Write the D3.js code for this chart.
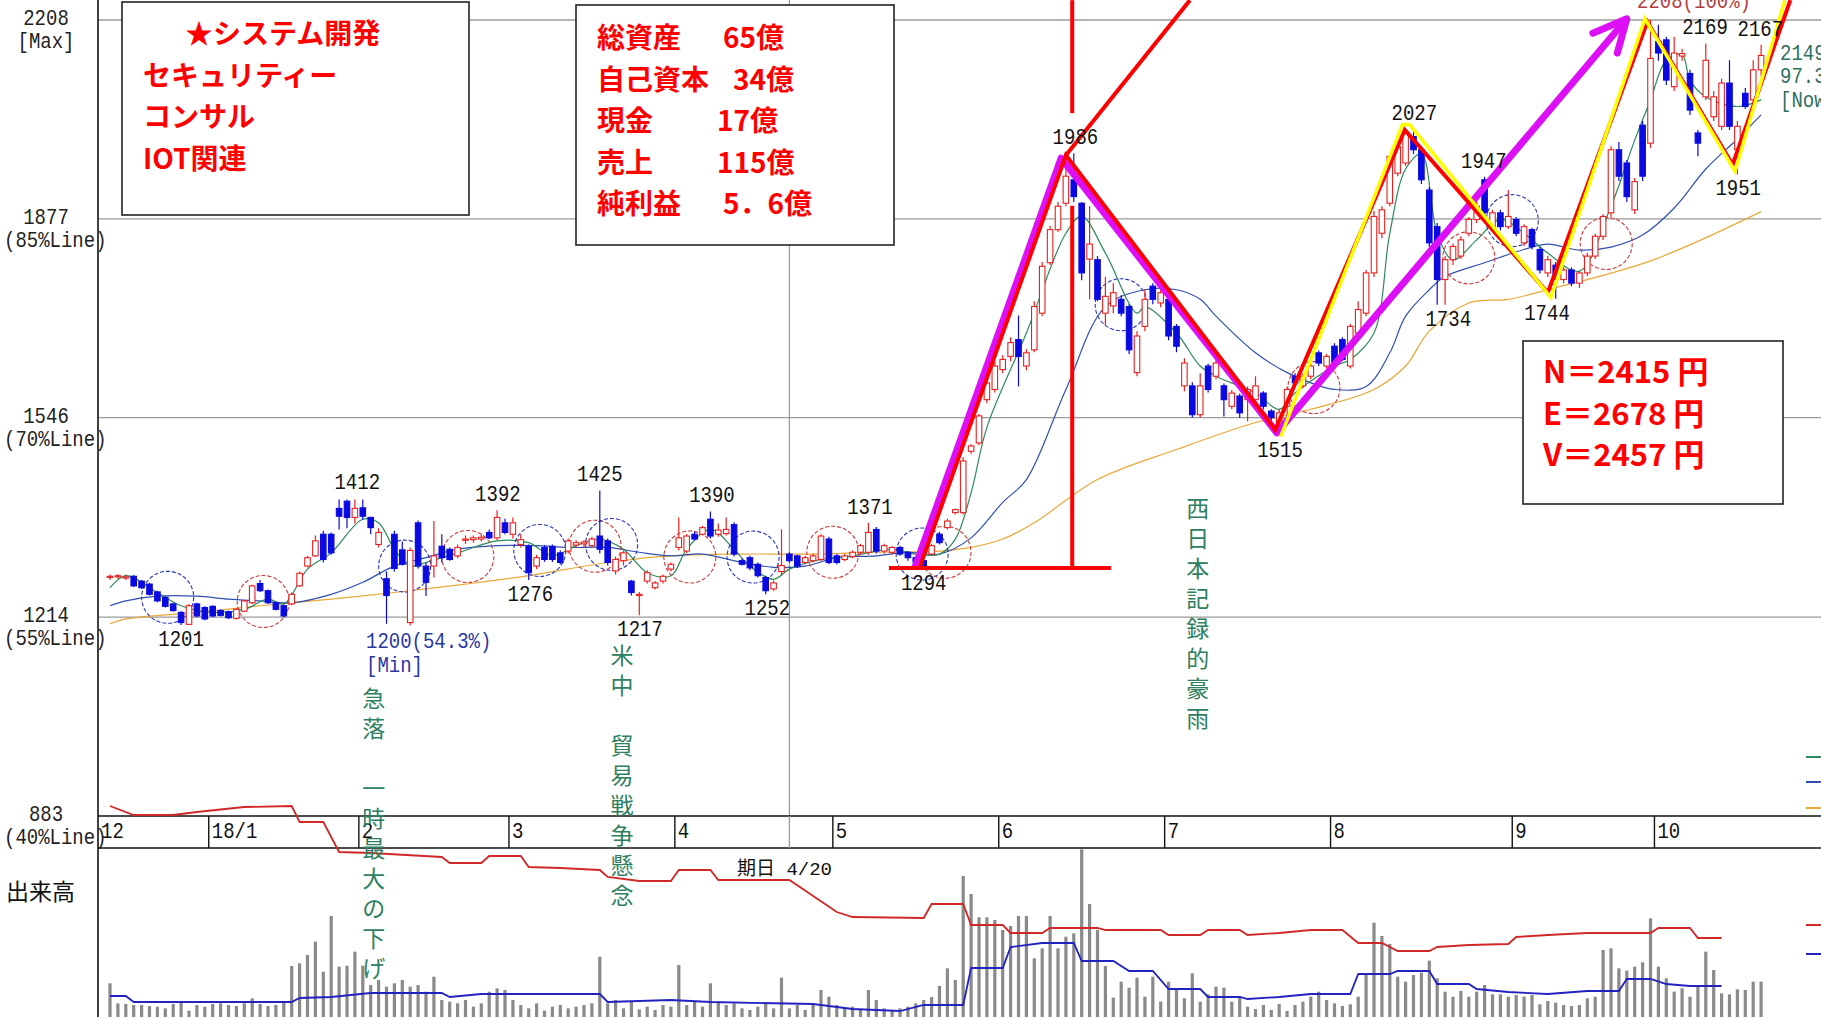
<!DOCTYPE html>
<html><head><meta charset="utf-8">
<script src="https://cdn.jsdelivr.net/npm/d3@7"></script>
<style>
html,body{margin:0;padding:0;background:#fff;overflow:hidden}
svg{display:block}
</style></head><body>
<script>
// month segments on the time axis (trading days shown per month)
const monthLabels = ["12","18/1","2","3","4","5","6","7","8","9","10"];
const monthDays = [13,19,19,21,20,21,21,21,23,18,14];

// daily candles [open, high, low, close]
const dec = [[1280,1285,1276,1282],[1281,1286,1278,1283],[1279,1285,1276,1281],[1282,1284,1264,1266],[1274,1276,1261,1263],[1269,1271,1250,1252],[1256,1258,1239,1241],[1247,1249,1230,1232],[1236,1238,1223,1225],[1222,1224,1201,1205],[1202,1236,1201,1233],[1236,1238,1214,1216],[1230,1232,1209,1211]];
const jan = [[1232,1234,1214,1216],[1225,1227,1215,1217],[1223,1225,1211,1213],[1212,1229,1210,1227],[1224,1243,1222,1241],[1238,1268,1236,1266],[1270,1276,1256,1258],[1258,1260,1236,1238],[1238,1240,1225,1227],[1233,1235,1214,1216],[1236,1255,1234,1252],[1266,1290,1264,1287],[1299,1316,1297,1313],[1316,1350,1314,1341],[1352,1358,1305,1310],[1352,1355,1318,1321],[1395,1410,1360,1382],[1407,1410,1362,1380],[1380,1410,1370,1395]];
const feb = [[1396,1410,1376,1382],[1380,1381,1352,1363],[1335,1362,1330,1355],[1278,1290,1203,1250],[1352,1358,1290,1295],[1326,1340,1300,1302],[1205,1330,1200,1325],[1371,1375,1295,1299],[1299,1305,1249,1272],[1299,1374,1280,1316],[1332,1352,1305,1313],[1327,1330,1308,1310],[1316,1335,1312,1330],[1342,1350,1336,1344],[1343,1350,1338,1346],[1344,1352,1340,1347],[1355,1360,1344,1346],[1346,1392,1342,1380],[1371,1378,1352,1355]];
const mar = [[1352,1380,1345,1371],[1335,1352,1330,1343],[1332,1335,1276,1288],[1299,1318,1294,1313],[1330,1334,1306,1310],[1332,1335,1306,1310],[1321,1325,1302,1305],[1324,1345,1320,1341],[1334,1342,1330,1338],[1336,1342,1330,1339],[1333,1348,1330,1344],[1349,1425,1320,1327],[1341,1345,1300,1305],[1291,1315,1285,1310],[1308,1325,1300,1321],[1274,1276,1250,1255],[1250,1256,1217,1252],[1274,1292,1270,1288],[1263,1274,1260,1271],[1274,1285,1270,1282],[1294,1305,1290,1302]];
const apr = [[1330,1380,1325,1346],[1324,1352,1320,1349],[1352,1356,1342,1344],[1352,1366,1350,1363],[1377,1390,1345,1349],[1352,1370,1348,1359],[1353,1380,1350,1360],[1368,1372,1315,1319],[1308,1312,1300,1302],[1313,1316,1292,1296],[1302,1305,1280,1283],[1280,1283,1252,1258],[1261,1275,1258,1271],[1290,1360,1283,1300],[1319,1322,1305,1308],[1316,1318,1296,1299],[1305,1316,1302,1313],[1308,1320,1305,1316],[1310,1352,1307,1349],[1344,1348,1302,1305]];
const may = [[1316,1319,1302,1305],[1310,1319,1307,1316],[1315,1325,1312,1322],[1322,1336,1318,1333],[1322,1371,1318,1355],[1360,1364,1320,1324],[1324,1336,1320,1333],[1322,1332,1318,1330],[1330,1333,1316,1319],[1322,1324,1308,1313],[1313,1315,1294,1305],[1308,1310,1298,1300],[1319,1336,1316,1333],[1352,1356,1335,1338],[1363,1378,1360,1374],[1388,1395,1385,1393],[1388,1480,1385,1474],[1490,1502,1486,1499],[1504,1552,1500,1549],[1576,1610,1570,1604],[1593,1640,1588,1632]];
const jun = [[1626,1650,1620,1643],[1648,1680,1640,1671],[1676,1716,1598,1648],[1632,1660,1625,1654],[1659,1740,1655,1731],[1720,1805,1715,1798],[1804,1865,1800,1859],[1859,1905,1855,1898],[1903,1960,1898,1948],[1942,1986,1905,1914],[1903,1905,1775,1787],[1810,1898,1743,1835],[1809,1815,1740,1743],[1720,1780,1700,1748],[1732,1770,1720,1754],[1743,1750,1715,1720],[1731,1735,1652,1659],[1621,1690,1615,1682],[1698,1760,1690,1743],[1765,1770,1735,1743],[1737,1760,1730,1754]];
const jul = [[1743,1748,1675,1682],[1698,1702,1655,1665],[1599,1645,1590,1637],[1599,1605,1546,1551],[1551,1620,1546,1599],[1632,1636,1588,1593],[1615,1655,1610,1637],[1599,1603,1548,1576],[1565,1592,1560,1587],[1582,1586,1546,1554],[1576,1598,1540,1593],[1576,1615,1572,1599],[1587,1590,1560,1565],[1557,1560,1540,1546],[1527,1560,1515,1554],[1565,1598,1548,1593],[1615,1620,1600,1604],[1599,1620,1595,1615],[1615,1636,1610,1632],[1654,1658,1632,1637],[1632,1652,1628,1648]];
const aug = [[1665,1670,1632,1637],[1676,1680,1640,1643],[1632,1702,1628,1698],[1687,1740,1682,1726],[1720,1792,1715,1787],[1787,1890,1780,1881],[1853,1898,1845,1892],[1903,1985,1898,1981],[1953,2005,1948,1997],[1970,2027,1965,2020],[2014,2027,1985,1992],[1992,1998,1935,1942],[1925,1930,1830,1837],[1864,1870,1734,1776],[1776,1815,1734,1809],[1809,1836,1800,1831],[1815,1848,1810,1842],[1853,1880,1848,1876],[1876,1905,1870,1898],[1942,1947,1880,1887],[1864,1892,1858,1887],[1887,1892,1858,1864],[1864,1925,1860,1881]];
const sep = [[1876,1880,1848,1853],[1837,1868,1832,1864],[1859,1862,1826,1831],[1826,1830,1786,1792],[1787,1815,1780,1809],[1800,1805,1744,1776],[1776,1797,1770,1792],[1792,1796,1765,1770],[1770,1790,1762,1787],[1787,1820,1782,1815],[1815,1852,1810,1848],[1848,1885,1842,1881],[1887,1998,1880,1992],[1992,2005,1940,1948],[1970,1975,1905,1914],[1892,1945,1885,1939],[2033,2040,1940,1948],[2003,2208,1995,2144]];
const oct = [[2172,2200,2140,2153],[2175,2180,2100,2108],[2097,2180,2090,2153],[2148,2160,2140,2152],[2119,2125,2050,2058],[2020,2025,1981,2003],[2080,2169,2075,2141],[2047,2090,2040,2080],[2031,2110,2025,2103],[2103,2141,2025,2031],[1992,2040,1951,2031],[2086,2095,2060,2064],[2075,2141,2064,2125],[2125,2167,2114,2149]];

// daily volume (千株)
const volDec = [101,41,39,36,36,33,31,26,39,48,19,36,31];
const volJan = [39,41,36,33,41,56,39,33,36,46,153,161,186,226,136,303,151,154,196];
const volFeb = [154,96,111,91,101,111,91,96,76,121,51,46,41,51,31,41,76,86,81];
const volMar = [51,36,26,41,19,31,36,26,31,36,41,181,41,51,26,46,23,31,21,36,31];
const volApr = [156,36,46,31,101,46,36,41,26,21,31,39,26,118,26,36,21,41,81,61];
const volMay = [36,26,31,21,81,51,26,21,26,31,41,51,60,93,146,111,423,369,299,299,291];
const volJun = [261,273,303,303,176,206,303,206,241,251,503,339,261,153,58,106,88,118,61,121,46];
const volJul = [106,81,56,131,46,68,91,88,46,61,31,24,36,21,39,18,36,46,61,76,51];
const volAug = [41,33,38,61,131,283,243,219,121,106,126,133,169,116,76,61,78,61,76,96,68,68,61];
const volSep = [66,61,66,38,48,43,36,33,36,56,61,201,206,146,139,151,164,296];
const volOct = [151,116,76,86,61,96,196,141,71,68,83,81,106,106];

// weekly lines in the volume pane [day, value]
const creditBuy = [[0,633],[3,606],[8,606],[11,615],[17,630],[23,633],[24,585],[27,585],[29,495],[33,492],[42,480],[43,462],[47,462],[48,483],[52,483],[53,450],[57,447],[62,441],[63,420],[67,408],[71,408],[72,441],[76,441],[77,411],[86,411],[92,315],[94,300],[103,297],[104,339],[108,339],[109,276],[113,276],[114,252],[118,252],[119,267],[125,267],[126,261],[133,261],[134,246],[138,246],[139,261],[143,261],[144,246],[148,252],[152,261],[156,261],[158,222],[161,222],[163,198],[167,198],[168,210],[172,216],[177,219],[178,240],[182,246],[187,252],[195,252],[196,267],[200,267],[201,237],[204,237]];
const creditSell = [[0,63],[2,63],[3,45],[23,45],[24,57],[28,60],[33,72],[42,72],[43,60],[47,69],[62,69],[63,45],[71,51],[76,45],[89,39],[94,24],[100,18],[103,36],[108,36],[109,147],[113,147],[114,210],[118,222],[122,222],[123,168],[127,168],[129,138],[132,138],[134,84],[138,84],[139,60],[143,60],[144,54],[148,60],[152,69],[157,69],[158,129],[162,129],[163,138],[167,138],[168,99],[172,99],[173,84],[177,75],[182,69],[187,78],[191,78],[192,114],[195,114],[197,99],[200,93],[204,93]];

// moving averages [day, price]
const maShort = [[0,1263],[2,1283],[6,1255],[9,1233],[13,1222],[17,1227],[20,1244],[22,1236],[25,1294],[28,1321],[32,1377],[34,1371],[36,1327],[38,1299],[40,1305],[44,1321],[49,1341],[53,1338],[56,1316],[59,1333],[62,1344],[65,1327],[68,1288],[71,1283],[73,1327],[76,1360],[79,1327],[81,1299],[84,1277],[86,1294],[90,1310],[94,1316],[99,1327],[102,1319],[105,1319],[107,1344],[109,1421],[111,1530],[116,1687],[121,1853],[123,1881],[126,1820],[130,1720],[131,1731],[135,1687],[138,1632],[140,1615],[145,1587],[148,1560],[150,1587],[155,1632],[157,1643],[160,1687],[162,1853],[164,1960],[166,1985],[168,1853],[170,1809],[173,1842],[176,1876],[179,1853],[182,1820],[186,1790],[190,1898],[193,2008],[195,2075],[197,2141],[199,2150],[200,2108],[202,2080],[206,2064],[209,2075]];
const maMid = [[0,1233],[2,1241],[6,1249],[11,1249],[15,1244],[19,1241],[23,1238],[28,1252],[32,1272],[36,1299],[40,1313],[44,1327],[49,1333],[54,1333],[58,1330],[63,1330],[67,1322],[71,1316],[75,1319],[80,1305],[84,1297],[88,1299],[92,1313],[97,1316],[101,1322],[105,1319],[109,1346],[113,1405],[116,1443],[121,1593],[126,1731],[131,1759],[135,1759],[138,1743],[140,1715],[145,1654],[149,1621],[152,1604],[155,1593],[159,1598],[162,1654],[164,1715],[167,1759],[169,1781],[174,1804],[179,1826],[182,1835],[186,1825],[190,1830],[194,1850],[198,1895],[202,1960],[206,2010],[209,2050]];
const maLong = [[0,1203],[2,1211],[11,1222],[19,1233],[28,1244],[36,1255],[45,1269],[53,1283],[63,1305],[71,1316],[80,1319],[88,1319],[97,1322],[105,1324],[109,1330],[113,1344],[117,1371],[125,1443],[135,1493],[145,1538],[152,1560],[160,1593],[164,1632],[167,1690],[172,1737],[177,1743],[182,1759],[195,1807],[209,1889]];

// cross markers [day, price, kind]
const crossCircles = [[7.3,1247,"d"],[19.4,1240,"g"],[37.3,1299,"d"],[45.3,1315,"g"],[54.4,1325,"d"],[61.4,1332,"g"],[63.5,1335,"d"],[73.4,1314,"g"],[81.4,1314,"d"],[91.5,1322,"g"],[102.8,1319,"d"],[105.7,1322,"g"],[128,1734,"d"],[152.4,1596,"g"],[172,1812,"g"],[177.5,1874,"d"],[189.4,1836,"g"]];

// high / low labels [day, price, text, side]
const pivotLabels = [[31.3,1412,"1412","up"],[49.1,1392,"1392","up"],[53.2,1276,"1276","dn"],[9,1201,"1201","dn"],[62,1425,"1425","up"],[76.2,1390,"1390","up"],[67.1,1217,"1217","dn"],[83.2,1252,"1252","dn"],[96.2,1371,"1371","up"],[103,1294,"1294","dn"],[122.2,1986,"1986","up"],[148.1,1515,"1515","dn"],[165.1,2027,"2027","up"],[169.4,1734,"1734","dn"],[173.9,1947,"1947","up"],[181.9,1744,"1744","dn"],[201.9,2169,"2169","up"],[208.9,2167,"2167","up"],[206.1,1951,"1951","dn"]];

// price levels on the left axis
const priceLines = [2208,1877,1546,1214,883];
const priceNotes = ["[Max]","(85%Line)","(70%Line)","(55%Line)","(40%Line)"];

// hand-drawn wave lines [day, price]
const waveMagenta = [[101.9,1297],[120.4,1978],[147.7,1521],[192,2210]];
const arrowHead = [[187.7,2186],[192,2210],[190.8,2153]];
const waveRed = [[102.5,1297],[121,1983],[147.5,1526],[163.9,2025],[182,1754],[194.6,2205],[205.4,1967],[212.7,2241]];
const waveRedExt = [[121,1983],[136.7,2241]];
const waveYellow = [[148.2,1515],[163.6,2034],[164.5,2034],[182.4,1746],[194.3,2210],[205.7,1956],[212,2241]];
const nTarget = [[121.8,2241],[121.8,2053]];
const nTarget2 = [[121.8,1899],[121.8,1296]];
const nBase = [[98.6,1296],[126.7,1296]];

// vertical notes [day, price of first char, text]
const notes = [[33.4,1081,"急落　一時最大の下げ"],[64.8,1153,"米中　貿易戦争懸念"],[137.7,1397,"西日本記録的豪雨"]];

const themeLines = ["★システム開発","セキュリティー","コンサル","IOT関連"];
const finLabels = ["総資産","自己資本","現金","売上","純利益"];
const finValues = ["65億","34億","17億","115億","5．6億"];
const nevLines = ["N＝2415 円","E＝2678 円","V＝2457 円"];

const W = 1821, H = 1017;
const candles = [].concat(dec, jan, feb, mar, apr, may, jun, jul, aug, sep, oct);
const volume = [].concat(volDec, volJan, volFeb, volMar, volApr, volMay, volJun, volJul, volAug, volSep, volOct);
const N = candles.length;
const monthStart = Array.from(d3.cumsum([0].concat(monthDays))).slice(0, monthDays.length);

const x = d3.scaleBand().domain(d3.range(N)).range([106.05, 1765.05]).paddingInner(0.3).paddingOuter(0.15);
const bw = x.bandwidth();
const cx = i => x(i) + bw / 2;
const xt = d3.scaleLinear().domain([0, N - 1]).range([cx(0), cx(N - 1)]);
const y = d3.scaleLinear().domain([883, 2208]).range([816, 20]);
const yv = d3.scaleLinear().domain([0, 504]).range([1017, 849]);

const svg = d3.select("body").append("svg").attr("width", W).attr("height", H);
svg.append("rect").attr("width", W).attr("height", H).attr("fill", "#fff");

const MONO = "'Liberation Mono','DejaVu Sans Mono',monospace";
const JP = "'Noto Sans CJK JP','Noto Sans',sans-serif";

function mono(g, px, py, str, color, anchor) {
  g.append("text")
    .attr("transform", `translate(${px},${py}) scale(1,1.2)`)
    .attr("text-anchor", anchor || "middle")
    .attr("font-family", MONO)
    .attr("font-size", 19)
    .attr("fill", color || "#111")
    .text(str);
}

// grid
const grid = svg.append("g");
priceLines.slice(0, 4).forEach(p => {
  grid.append("line").attr("x1", 98).attr("x2", W).attr("y1", y(p)).attr("y2", y(p))
    .attr("stroke", "#9a9a9a").attr("stroke-width", 1.3);
});
grid.append("line").attr("x1", cx(86)).attr("x2", cx(86)).attr("y1", 0).attr("y2", 848)
  .attr("stroke", "#9a9a9a").attr("stroke-width", 1.3);

// moving averages
const maLine = d3.line().x(d => xt(d[0])).y(d => y(d[1])).curve(d3.curveCatmullRom);
[[maLong, "#e8a838"], [maMid, "#3050b0"], [maShort, "#2e8a5a"]].forEach(([data, col]) => {
  svg.append("path").attr("d", maLine(data)).attr("fill", "none").attr("stroke", col).attr("stroke-width", 1.2);
});

// cross circles
svg.append("g").selectAll("circle").data(crossCircles).join("circle")
  .attr("cx", d => xt(d[0])).attr("cy", d => y(d[1])).attr("r", 26)
  .attr("fill", "none").attr("stroke", d => d[2] === "g" ? "#c83a3a" : "#2a36b8")
  .attr("stroke-width", 1.1).attr("stroke-dasharray", "4,2");

// candles
const cg = svg.append("g");
candles.forEach((c, i) => {
  const [o, h, l, cl] = c;
  const up = cl >= o;
  const col = up ? "#e82020" : "#0a0ae0";
  cg.append("line").attr("x1", cx(i)).attr("x2", cx(i)).attr("y1", y(h)).attr("y2", y(l))
    .attr("stroke", col).attr("stroke-width", 1.2);
  const top = y(Math.max(o, cl)), bot = y(Math.min(o, cl));
  cg.append("rect").attr("x", x(i)).attr("y", top).attr("width", bw).attr("height", Math.max(1.2, bot - top))
    .attr("fill", up ? "#fff" : col).attr("stroke", col).attr("stroke-width", 1.1);
});

// wave lines
const wl = d3.line().x(d => xt(d[0])).y(d => y(d[1]));
svg.append("path").attr("d", wl(waveMagenta)).attr("fill", "none").attr("stroke", "#dd10f5").attr("stroke-width", 7).attr("stroke-linejoin", "round");
svg.append("path").attr("d", wl(arrowHead)).attr("fill", "none").attr("stroke", "#dd10f5").attr("stroke-width", 7).attr("stroke-linecap", "round").attr("stroke-linejoin", "round");
[waveRed, waveRedExt, nTarget, nTarget2, nBase].forEach(d => {
  svg.append("path").attr("d", wl(d)).attr("fill", "none").attr("stroke", "#ff0000").attr("stroke-width", 4);
});
svg.append("path").attr("d", wl(waveYellow)).attr("fill", "none").attr("stroke", "#ffff00").attr("stroke-width", 3.5);

// pivot labels
const lg = svg.append("g");
pivotLabels.forEach(([d, p, t, s]) => {
  mono(lg, xt(d), y(p) + (s === "up" ? -9 : 21), t, "#111");
});
mono(lg, 366, 648, "1200(54.3%)", "#2838a0", "start");
mono(lg, 366, 672, "[Min]", "#2838a0", "start");
mono(lg, 1694, 8, "2208(100%)", "#b04040");
mono(lg, 1780, 60, "2149", "#2e7060", "start");
mono(lg, 1780, 83, "97.3%", "#2e7060", "start");
mono(lg, 1780, 107, "[Now]", "#2e7060", "start");

// volume pane
svg.append("g").selectAll("rect").data(volume).join("rect")
  .attr("x", (d, i) => cx(i) - 1.6).attr("width", 3.2)
  .attr("y", d => yv(d)).attr("height", d => yv(0) - yv(d)).attr("fill", "#8a8a8a");

// time axis band
const band = svg.append("g");
band.append("rect").attr("x", 98).attr("y", 816).attr("width", W - 98).attr("height", 32).attr("fill", "#fff");
band.append("line").attr("x1", 98).attr("x2", W).attr("y1", 816).attr("y2", 816).attr("stroke", "#111").attr("stroke-width", 1.6);
band.append("line").attr("x1", 98).attr("x2", W).attr("y1", 848).attr("y2", 848).attr("stroke", "#111").attr("stroke-width", 1.6);
band.append("line").attr("x1", cx(86)).attr("x2", cx(86)).attr("y1", 816).attr("y2", 848).attr("stroke", "#9a9a9a").attr("stroke-width", 1.3);
monthStart.forEach((s, k) => {
  const tx = k === 0 ? 98 : x(s) - (x.step() - bw) / 2;
  if (k > 0) band.append("line").attr("x1", tx).attr("x2", tx).attr("y1", 816).attr("y2", 848).attr("stroke", "#111").attr("stroke-width", 1.4);
  mono(band, tx + 3, 838, monthLabels[k], "#111", "start");
});

// credit lines
const cl = d3.line().x(d => xt(d[0])).y(d => yv(d[1]));
svg.append("path").attr("d", cl(creditBuy)).attr("fill", "none").attr("stroke", "#d02828").attr("stroke-width", 1.8);
svg.append("path").attr("d", cl(creditSell)).attr("fill", "none").attr("stroke", "#2222c0").attr("stroke-width", 1.8);

// vertical notes (drawn over the time band like the original)
notes.forEach(([d, p, t]) => {
  Array.from(t).forEach((ch, k) => {
    svg.append("text").attr("x", xt(d)).attr("y", y(p) + k * 30)
      .attr("text-anchor", "middle").attr("dominant-baseline", "central")
      .attr("font-family", JP).attr("font-size", 23).attr("fill", "#2f8060").text(ch);
  });
});

// right edge legend stubs
[[757, "#2e8a5a"], [782, "#3050b0"], [808, "#e8a838"], [925, "#d02828"], [954, "#2222c0"]].forEach(([yy, col]) => {
  svg.append("line").attr("x1", 1806).attr("x2", W).attr("y1", yy).attr("y2", yy).attr("stroke", col).attr("stroke-width", 2);
});

// left axis
svg.append("line").attr("x1", 98).attr("x2", 98).attr("y1", 0).attr("y2", H).attr("stroke", "#111").attr("stroke-width", 1.6);
const ax = svg.append("g");
priceLines.forEach((p, k) => {
  mono(ax, 46, y(p) + 5, String(p), "#222");
  if (k === 0) mono(ax, 46, y(p) + 28, priceNotes[k], "#222");
  else mono(ax, 4, y(p) + 28, priceNotes[k], "#222", "start");
});
svg.append("text").attr("x", 6).attr("y", 900).attr("font-family", JP).attr("font-size", 23).attr("fill", "#111").text("出来高");
svg.append("text").attr("x", 737).attr("y", 875).attr("font-family", MONO + ",'Noto Sans CJK JP'").attr("font-size", 19).attr("fill", "#111").text("期日 4/20");

// text boxes
function box(x0, y0, w, h) {
  svg.append("rect").attr("x", x0).attr("y", y0).attr("width", w).attr("height", h)
    .attr("fill", "#fff").attr("stroke", "#222").attr("stroke-width", 1.6);
}
box(122, 2, 347, 213);
const themeX = [185, 143, 143, 143];
themeLines.forEach((t, k) => {
  svg.append("text").attr("x", themeX[k]).attr("y", 44 + k * 41.5).attr("font-family", JP).attr("font-weight", 700)
    .attr("font-size", 28).attr("fill", "#ff0000").text(t);
});
box(576, 5, 318, 240);
const finValX = [723, 733, 717, 717, 723];
finLabels.forEach((t, k) => {
  const yy = 48 + k * 41.5;
  svg.append("text").attr("x", 597).attr("y", yy).attr("font-family", JP).attr("font-weight", 700)
    .attr("font-size", 28).attr("fill", "#ff0000").text(t);
  svg.append("text").attr("x", finValX[k]).attr("y", yy).attr("font-family", JP).attr("font-weight", 700)
    .attr("font-size", 28).attr("fill", "#ff0000").text(finValues[k]);
});
box(1523, 341, 260, 163);
nevLines.forEach((t, k) => {
  svg.append("text").attr("x", 1543).attr("y", 383 + k * 41.5).attr("font-family", JP).attr("font-weight", 700)
    .attr("font-size", 31).attr("fill", "#ff0000").text(t);
});
</script>
</body></html>
